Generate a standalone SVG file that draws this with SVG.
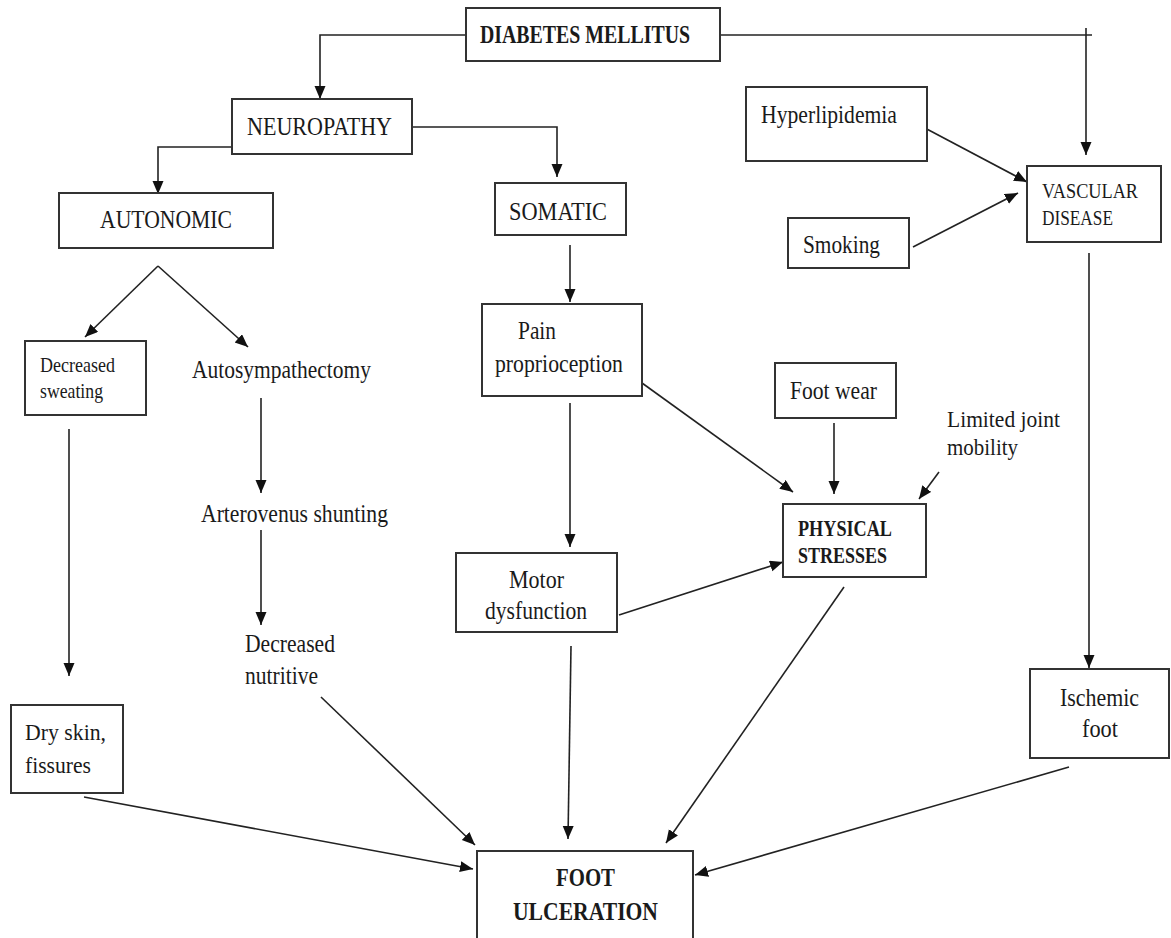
<svg xmlns="http://www.w3.org/2000/svg" width="1171" height="938" viewBox="0 0 1171 938">
<style>
.box{fill:#fff;stroke:#333;stroke-width:2}
.t{font-family:"Liberation Serif","Times New Roman",serif;fill:#1a1a1a;font-size:26px}
.b{font-weight:bold}
.c{fill:none;stroke:#222;stroke-width:1.6}
</style>
<defs>
<marker id="ah" markerUnits="userSpaceOnUse" markerWidth="14" markerHeight="12" refX="13" refY="5.5" orient="auto" viewBox="0 0 14 12">
<path d="M0,0 L13,5.5 L0,11 z" fill="#111"/>
</marker>
</defs>
<rect width="1171" height="938" fill="#fff"/>
<g id="connectors">
<polyline class="c" points="468,35 320,35 320,99" marker-end="url(#ah)"/>
<line class="c" x1="717" y1="35" x2="1092" y2="35"/>
<line class="c" x1="1086" y1="28" x2="1086" y2="155" marker-end="url(#ah)"/>
<polyline class="c" points="232,147 158,147 158,194" marker-end="url(#ah)"/>
<polyline class="c" points="408,127 557,127 557,177" marker-end="url(#ah)"/>
<line class="c" x1="158" y1="266" x2="248" y2="347" marker-end="url(#ah)"/>
<line class="c" x1="158" y1="266" x2="85" y2="337" marker-end="url(#ah)"/>
<line class="c" x1="69" y1="429" x2="69" y2="676" marker-end="url(#ah)"/>
<line class="c" x1="261" y1="398" x2="261" y2="493" marker-end="url(#ah)"/>
<line class="c" x1="261" y1="530" x2="261" y2="625" marker-end="url(#ah)"/>
<line class="c" x1="570" y1="245" x2="570" y2="302" marker-end="url(#ah)"/>
<line class="c" x1="570" y1="403" x2="570" y2="547" marker-end="url(#ah)"/>
<line class="c" x1="642" y1="383" x2="793" y2="492" marker-end="url(#ah)"/>
<line class="c" x1="834" y1="423" x2="834" y2="494" marker-end="url(#ah)"/>
<line class="c" x1="939" y1="472" x2="919" y2="499" marker-end="url(#ah)"/>
<line class="c" x1="619" y1="615" x2="783" y2="562" marker-end="url(#ah)"/>
<line class="c" x1="844" y1="587" x2="666" y2="843" marker-end="url(#ah)"/>
<line class="c" x1="571" y1="646" x2="568" y2="839" marker-end="url(#ah)"/>
<line class="c" x1="84" y1="797" x2="473" y2="869" marker-end="url(#ah)"/>
<line class="c" x1="321" y1="697" x2="475" y2="845" marker-end="url(#ah)"/>
<line class="c" x1="1069" y1="767" x2="695" y2="875" marker-end="url(#ah)"/>
<line class="c" x1="923" y1="127" x2="1027" y2="182" marker-end="url(#ah)"/>
<line class="c" x1="913" y1="247" x2="1018" y2="193" marker-end="url(#ah)"/>
<line class="c" x1="1089" y1="253" x2="1089" y2="668" marker-end="url(#ah)"/>
</g>
<g id="diabetes">
<rect class="box" x="466" y="8" width="254" height="53"/>
<text class="t b" x="480" y="43" textLength="210" lengthAdjust="spacingAndGlyphs">DIABETES MELLITUS</text>
</g>
<g id="neuropathy">
<rect class="box" x="232" y="99" width="180" height="55"/>
<text class="t" x="247" y="135" textLength="145" lengthAdjust="spacingAndGlyphs">NEUROPATHY</text>
</g>
<g id="autonomic">
<rect class="box" x="59" y="193" width="214" height="55"/>
<text class="t" style="font-size:25px" x="100" y="228" textLength="132" lengthAdjust="spacingAndGlyphs">AUTONOMIC</text>
</g>
<g id="somatic">
<rect class="box" x="495" y="183" width="131" height="52"/>
<text class="t" x="509" y="220" textLength="98" lengthAdjust="spacingAndGlyphs">SOMATIC</text>
</g>
<g id="decreased-sweating">
<rect class="box" x="25" y="341" width="121" height="74"/>
<text class="t" style="font-size:22px" x="40" y="372" textLength="75" lengthAdjust="spacingAndGlyphs">Decreased</text>
<text class="t" style="font-size:22px" x="40" y="398" textLength="63" lengthAdjust="spacingAndGlyphs">sweating</text>
</g>
<g id="autosympathectomy">
<text class="t" style="font-size:25px" x="192" y="378" textLength="179" lengthAdjust="spacingAndGlyphs">Autosympathectomy</text>
</g>
<g id="arterovenus">
<text class="t" x="201" y="522" textLength="187" lengthAdjust="spacingAndGlyphs">Arterovenus shunting</text>
</g>
<g id="decreased-nutritive">
<text class="t" x="245" y="652" textLength="90" lengthAdjust="spacingAndGlyphs">Decreased</text>
<text class="t" x="245" y="684" textLength="73" lengthAdjust="spacingAndGlyphs">nutritive</text>
</g>
<g id="dry-skin">
<rect class="box" x="11" y="705" width="112" height="88"/>
<text class="t" style="font-size:24px" x="25" y="740" textLength="81" lengthAdjust="spacingAndGlyphs">Dry skin,</text>
<text class="t" style="font-size:24px" x="25" y="773" textLength="66" lengthAdjust="spacingAndGlyphs">fissures</text>
</g>
<g id="pain">
<rect class="box" x="482" y="304" width="160" height="92"/>
<text class="t" x="518" y="339" textLength="38" lengthAdjust="spacingAndGlyphs">Pain</text>
<text class="t" x="495" y="372" textLength="128" lengthAdjust="spacingAndGlyphs">proprioception</text>
</g>
<g id="motor">
<rect class="box" x="456" y="553" width="161" height="79"/>
<text class="t" x="509" y="588" textLength="55" lengthAdjust="spacingAndGlyphs">Motor</text>
<text class="t" x="485" y="619" textLength="102" lengthAdjust="spacingAndGlyphs">dysfunction</text>
</g>
<g id="foot-wear">
<rect class="box" x="775" y="363" width="121" height="55"/>
<text class="t" x="790" y="399" textLength="87" lengthAdjust="spacingAndGlyphs">Foot wear</text>
</g>
<g id="limited-joint">
<text class="t" style="font-size:24px" x="947" y="427" textLength="113" lengthAdjust="spacingAndGlyphs">Limited joint</text>
<text class="t" style="font-size:24px" x="947" y="455" textLength="71" lengthAdjust="spacingAndGlyphs">mobility</text>
</g>
<g id="physical">
<rect class="box" x="783" y="504" width="143" height="73"/>
<text class="t b" style="font-size:23px" x="798" y="536" textLength="94" lengthAdjust="spacingAndGlyphs">PHYSICAL</text>
<text class="t b" style="font-size:23px" x="798" y="563" textLength="89" lengthAdjust="spacingAndGlyphs">STRESSES</text>
</g>
<g id="hyperlipidemia">
<rect class="box" x="746" y="87" width="181" height="74"/>
<text class="t" x="761" y="123" textLength="136" lengthAdjust="spacingAndGlyphs">Hyperlipidemia</text>
</g>
<g id="smoking">
<rect class="box" x="788" y="218" width="121" height="50"/>
<text class="t" x="803" y="253" textLength="77" lengthAdjust="spacingAndGlyphs">Smoking</text>
</g>
<g id="vascular">
<rect class="box" x="1027" y="166" width="134" height="76"/>
<text class="t" style="font-size:22px" x="1042" y="198" textLength="96" lengthAdjust="spacingAndGlyphs">VASCULAR</text>
<text class="t" style="font-size:22px" x="1042" y="225" textLength="71" lengthAdjust="spacingAndGlyphs">DISEASE</text>
</g>
<g id="ischemic">
<rect class="box" x="1030" y="669" width="139" height="89"/>
<text class="t" x="1060" y="706" textLength="79" lengthAdjust="spacingAndGlyphs">Ischemic</text>
<text class="t" x="1082" y="737" textLength="36" lengthAdjust="spacingAndGlyphs">foot</text>
</g>
<g id="foot-ulceration">
<rect class="box" x="477" y="851" width="216" height="100"/>
<text class="t b" style="font-size:25px" x="556" y="886" textLength="59" lengthAdjust="spacingAndGlyphs">FOOT</text>
<text class="t b" style="font-size:25px" x="513" y="920" textLength="145" lengthAdjust="spacingAndGlyphs">ULCERATION</text>
</g>
</svg>
